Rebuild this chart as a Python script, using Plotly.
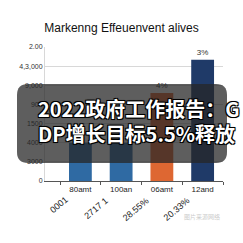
import plotly.graph_objects as go

# ---- data ----
categories = ["80amt", "100an", "06amt", "12and"]
sub_labels = ["0001", "2717 1", "28.55%", "20.33%"]
values = [2.0, 2.0, 4.6, 6.33]
bar_text = ["", "", "4%", "3%"]
bar_colors = ["#2f6aa3", "#2f6aa3", "#de6732", "#1f3a68"]
y_tickvals = [0, 1, 2, 3, 4, 5, 6, 7]
y_ticktext = ["0", "3000", "4000", "1500", "900", "9,000", "4,3,000", "2.00"]
title_text = "Markenng Effeuenvent alives"
overlay_lines = ["2022政府工作报告：G", "DP增长目标5.5%释放"]

W, H = 243, 243
L, R, T, B = 45, 20, 47, 62
pw, ph = W - L - R, H - T - B

def px2paper(x, y):
    return (x - L) / pw, (H - B - y) / ph

fig = go.Figure()
fig.add_trace(go.Bar(
    x=categories, y=values, marker_color=bar_colors, marker_line_width=0,
    text=bar_text, textposition="outside", cliponaxis=False,
    textfont=dict(size=8, color="#333", family="Liberation Sans"),
))

# rounded overlay box
x0, y0, x1, y1, r = 17, 84, 227, 163, 11
def P(x, y):
    a, b = px2paper(x, y)
    return f"{a:.4f},{b:.4f}"
path = (f"M {P(x0 + r, y0)} L {P(x1 - r, y0)} Q {P(x1, y0)} {P(x1, y0 + r)} "
        f"L {P(x1, y1 - r)} Q {P(x1, y1)} {P(x1 - r, y1)} "
        f"L {P(x0 + r, y1)} Q {P(x0, y1)} {P(x0, y1 - r)} "
        f"L {P(x0, y0 + r)} Q {P(x0, y0)} {P(x0 + r, y0)} Z")

annotations = []
# rotated sub labels
for i, s in enumerate(sub_labels):
    annotations.append(dict(
        x=i, y=0, xref="x", yref="paper", text=s, showarrow=False,
        textangle=-40, xanchor="right", yanchor="top", xshift=-8, yshift=-11,
        font=dict(size=9, color="#222", family="Liberation Sans"),
    ))
# overlay text
outline = "-1px -1px 0 #000, 1px -1px 0 #000, -1px 1px 0 #000, 1px 1px 0 #000, 0 0 2px #000"
for j, line in enumerate(overlay_lines):
    ax, ay = px2paper(36, 108 + j * 25)
    annotations.append(dict(
        x=ax, y=ay, xref="paper", yref="paper", text=f"<b>{line}</b>",
        showarrow=False, xanchor="left", yanchor="middle",
        font=dict(size=20, color="white", family="Noto Sans CJK SC", shadow=outline),
    ))
# watermark
wx, wy = px2paper(222, 217)
annotations.append(dict(
    x=wx, y=wy, xref="paper", yref="paper", text="图片来源网络",
    showarrow=False, xanchor="right", yanchor="middle",
    font=dict(size=6, color="#cccccc", family="Noto Sans CJK SC"),
))

fig.update_layout(
    width=W, height=H, margin=dict(l=L, r=R, t=T, b=B),
    paper_bgcolor="white", plot_bgcolor="white",
    bargap=0.44, showlegend=False,
    title=dict(text=title_text, x=0.5, xanchor="center", y=1 - 28 / H, yanchor="middle",
               font=dict(size=12, color="#111", family="Liberation Sans")),
    xaxis=dict(showgrid=False, showline=True, linecolor="#555", linewidth=1,
               ticks="outside", tickson="boundaries", ticklen=3, tickcolor="#555",
               tickfont=dict(size=8, color="#222", family="Liberation Sans")),
    yaxis=dict(range=[0, 7], tickvals=y_tickvals, ticktext=y_ticktext,
               showgrid=True, gridcolor="#d8d8d8", gridwidth=1, zeroline=False,
               showline=True, linecolor="#d8d8d8",
               tickfont=dict(size=7, color="#333", family="Liberation Sans")),
    shapes=[dict(type="path", path=path, xref="paper", yref="paper",
                 fillcolor="rgba(38,38,38,0.74)", line=dict(width=0), layer="above")],
    annotations=annotations,
)

fig.write_html("out.html")
